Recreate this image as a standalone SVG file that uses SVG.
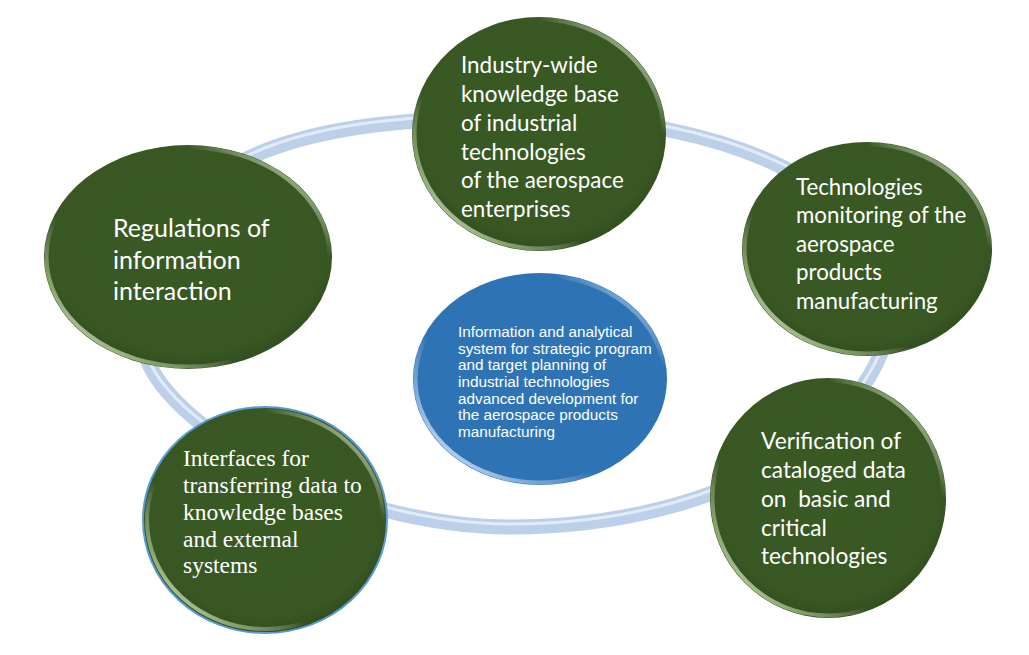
<svg xmlns="http://www.w3.org/2000/svg" width="1029" height="655" viewBox="0 0 1029 655">
<defs>
<linearGradient id="rim" x1="0" y1="1" x2="1" y2="0">
<stop offset="0.05" stop-color="#f4fbe9" stop-opacity="0.95"/>
<stop offset="0.2" stop-color="#b9d49c" stop-opacity="0.6"/>
<stop offset="0.35" stop-color="#ffffff" stop-opacity="0"/>
<stop offset="0.75" stop-color="#ffffff" stop-opacity="0"/>
<stop offset="0.9" stop-color="#d8ecc4" stop-opacity="0.7"/>
<stop offset="1" stop-color="#ffffff" stop-opacity="0.2"/>
</linearGradient>
<linearGradient id="rimBlue" x1="0" y1="1" x2="1" y2="0">
<stop offset="0.05" stop-color="#ffffff" stop-opacity="0.95"/>
<stop offset="0.22" stop-color="#cfe3f7" stop-opacity="0.5"/>
<stop offset="0.38" stop-color="#ffffff" stop-opacity="0"/>
<stop offset="0.78" stop-color="#ffffff" stop-opacity="0"/>
<stop offset="0.92" stop-color="#cfe3f7" stop-opacity="0.7"/>
<stop offset="1" stop-color="#ffffff" stop-opacity="0.2"/>
</linearGradient>
<radialGradient id="greenFill" cx="0.5" cy="0.45" r="0.55">
<stop offset="0" stop-color="#3a5a24"/>
<stop offset="0.88" stop-color="#385723"/>
<stop offset="1" stop-color="#314d1e"/>
</radialGradient>
</defs>
<style>
.ring{fill:none;stroke:#bcd0ea;stroke-width:15}
.ringHi{fill:none;stroke:#e2ecf9;stroke-width:3}
.green{fill:url(#greenFill)}
.rim{fill:none;stroke:url(#rim);stroke-width:4}
.blue{fill:#2e74b5}
.rimB{fill:none;stroke:url(#rimBlue);stroke-width:4}
.cal{font-family:Lato,"Open Sans","Liberation Sans",sans-serif;fill:#ffffff}
.tms{font-family:"Liberation Serif","Times New Roman",serif;fill:#ffffff}
.ari{font-family:"Liberation Sans",Arial,sans-serif;fill:#ffffff}
</style>

<g id="connectors">
<path class="ring" d="M535,117 C735,117 892,198 892,298 C892,423 726,527 511,527 C340,527 142,420 142,335 C145,150 300,117 535,117 Z"/>
<path class="ringHi" transform="translate(0,-3)" d="M535,117 C735,117 892,198 892,298 C892,423 726,527 511,527 C340,527 142,420 142,335 C145,150 300,117 535,117 Z"/>
</g>

<g id="node-top">
<ellipse class="green" cx="539" cy="134" rx="127" ry="117"/>
<ellipse class="rim" cx="539" cy="134" rx="124.5" ry="114.5"/>
<text class="cal" font-size="22.4"><tspan x="461" y="73">Industry-wide</tspan><tspan x="461" y="102">knowledge base</tspan><tspan x="461" y="131">of industrial</tspan><tspan x="461" y="160">technologies</tspan><tspan x="461" y="188">of the aerospace</tspan><tspan x="461" y="217">enterprises</tspan></text>
</g>

<g id="node-left">
<ellipse class="green" cx="188" cy="257" rx="144" ry="112"/>
<ellipse class="rim" cx="188" cy="257" rx="141.5" ry="109.5"/>
<text class="cal" font-size="25"><tspan x="113" y="237">Regulations of</tspan><tspan x="113" y="269">information</tspan><tspan x="113" y="300">interaction</tspan></text>
</g>

<g id="node-right">
<ellipse class="green" cx="867" cy="249" rx="125" ry="107"/>
<ellipse class="rim" cx="867" cy="249" rx="122.5" ry="104.5"/>
<text class="cal" font-size="22.3"><tspan x="796" y="195">Technologies</tspan><tspan x="796" y="223">monitoring of the</tspan><tspan x="796" y="252">aerospace</tspan><tspan x="796" y="280">products</tspan><tspan x="796" y="309">manufacturing</tspan></text>
</g>

<g id="node-bottom-right">
<ellipse class="green" cx="828" cy="498" rx="118" ry="120"/>
<ellipse class="rim" cx="828" cy="498" rx="115.5" ry="117.5"/>
<text class="cal" font-size="22.7" xml:space="preserve"><tspan x="761" y="449">Verification of</tspan><tspan x="761" y="478">cataloged data</tspan><tspan x="761" y="507">on  basic and</tspan><tspan x="761" y="536">critical</tspan><tspan x="761" y="564">technologies</tspan></text>
</g>

<g id="node-bottom-left">
<ellipse class="green" cx="265" cy="520" rx="122" ry="113" stroke="#5b9bd5" stroke-width="2"/>
<ellipse class="rim" cx="265" cy="520" rx="118" ry="109"/>
<text class="tms" font-size="23.5"><tspan x="183" y="466">Interfaces for</tspan><tspan x="183" y="493">transferring data to</tspan><tspan x="183" y="520">knowledge bases</tspan><tspan x="183" y="547">and external</tspan><tspan x="183" y="573">systems</tspan></text>
</g>

<g id="node-center">
<ellipse class="blue" cx="540" cy="379" rx="127" ry="106"/>
<ellipse class="rimB" cx="540" cy="379" rx="124.5" ry="103.5"/>
<text class="ari" font-size="15.3"><tspan x="458" y="337">Information and analytical</tspan><tspan x="458" y="353.7">system for strategic program</tspan><tspan x="458" y="370.4">and target planning of</tspan><tspan x="458" y="387">industrial technologies</tspan><tspan x="458" y="403.7">advanced development for</tspan><tspan x="458" y="420.4">the aerospace products</tspan><tspan x="458" y="437">manufacturing</tspan></text>
</g>
</svg>
